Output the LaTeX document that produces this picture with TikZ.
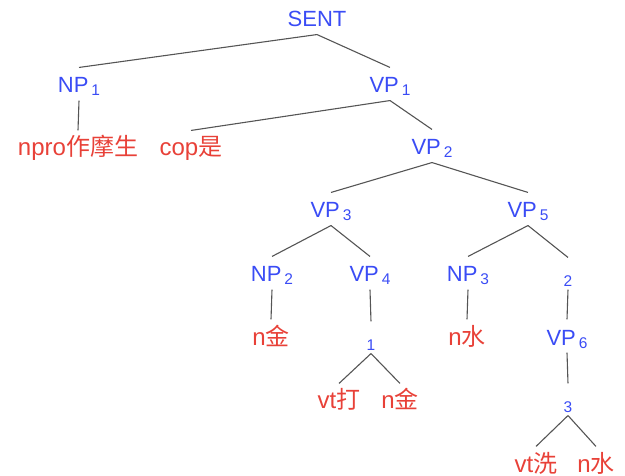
\documentclass[tikz,border=0pt]{standalone}
\usepackage{fontspec}
\usepackage{tikz}
\setmainfont{Liberation Sans}
\newfontfamily\cjk{Noto Sans CJK SC}
\definecolor{catblue}{RGB}{58,76,245}
\definecolor{wordred}{RGB}{232,65,56}
\definecolor{linegray}{RGB}{85,85,85}
\newcommand{\catidx}[1]{\hspace{3pt}\raisebox{-3pt}{\fontsize{15.5}{15.5}\selectfont #1}}

\begin{document}
\begin{tikzpicture}[x=1pt,y=-1pt,line width=1.1pt,
  every edge/.style={draw=linegray},
  cat/.style={anchor=base,inner sep=0pt,text height=25pt,text depth=7pt,text=catblue,font=\fontsize{22}{22}\selectfont},
  word/.style={anchor=base,inner sep=0pt,text height=25pt,text depth=7pt,text=wordred,font=\fontsize{24}{24}\selectfont},
  num/.style={anchor=base,inner sep=0pt,text height=29pt,text depth=2pt,text=catblue,font=\fontsize{15.5}{15.5}\selectfont}]
\useasboundingbox (0,0) rectangle (625,476);
\node[cat] (SENT) at (317,27) {SENT};
\node[cat] (NP1) at (79,93) {NP\catidx{1}};
\node[cat] (VP1) at (390,93) {VP\catidx{1}};
\node[word] (npro) at (78,156) {npro{\cjk 作摩生}};
\node[word] (cop) at (191,156) {cop{\cjk 是}};
\node[cat] (VP2) at (432,155) {VP\catidx{2}};
\node[cat] (VP3) at (331,218) {VP\catidx{3}};
\node[cat] (VP5) at (528,218) {VP\catidx{5}};
\node[cat] (NP2) at (272,282) {NP\catidx{2}};
\node[cat] (VP4) at (370,282) {VP\catidx{4}};
\node[cat] (NP3) at (468,282) {NP\catidx{3}};
\node[num] (N2) at (568,287) {2};
\node[word] (nJin) at (271,345) {n{\cjk 金}};
\node[num] (N1) at (371,351) {1};
\node[word] (nShui) at (467,345) {n{\cjk 水}};
\node[cat] (VP6) at (567,345) {VP\catidx{6}};
\node[word] (vtDa) at (339,409) {vt{\cjk 打}};
\node[word] (nJinB) at (400,409) {n{\cjk 金}};
\node[num] (N3) at (568,413) {3};
\node[word] (vtXi) at (536,472) {vt{\cjk 洗}};
\node[word] (nShuiB) at (596,472) {n{\cjk 水}};
\path
(SENT.south) edge (NP1.north)
             edge (VP1.north)
(NP1.south)  edge (npro.north)
(VP1.south)  edge (cop.north)
             edge (VP2.north)
(VP2.south)  edge (VP3.north)
             edge (VP5.north)
(VP3.south)  edge (NP2.north)
             edge (VP4.north)
(VP5.south)  edge (NP3.north)
             edge (N2.north)
(NP2.south)  edge (nJin.north)
(VP4.south)  edge (N1.north)
(NP3.south)  edge (nShui.north)
(N2.south)   edge (VP6.north)
(N1.south)   edge (vtDa.north)
             edge (nJinB.north)
(VP6.south)  edge (N3.north)
(N3.south)   edge (vtXi.north)
             edge (nShuiB.north);
\end{tikzpicture}
\end{document}
